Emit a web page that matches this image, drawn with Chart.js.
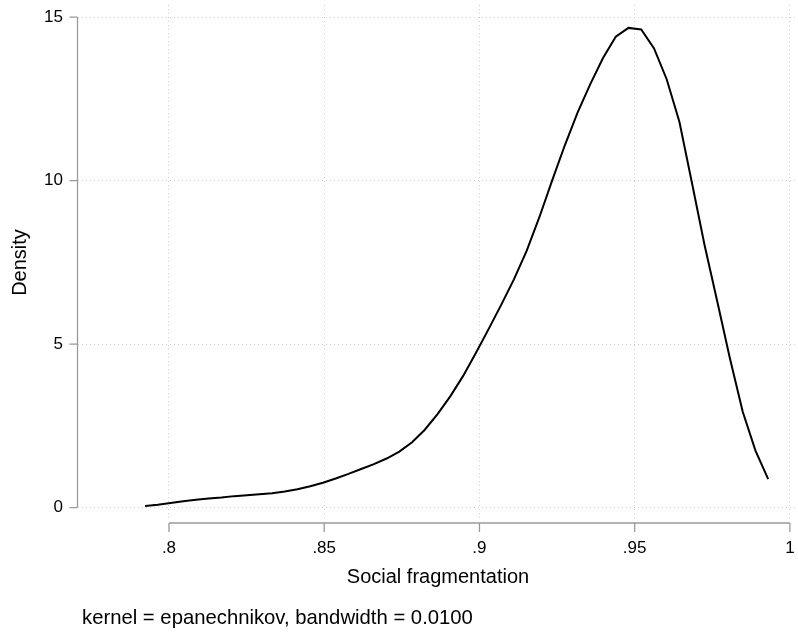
<!DOCTYPE html>
<html>
<head>
<meta charset="utf-8">
<script src="https://cdn.jsdelivr.net/npm/chart.js@4"></script>
<style>
  body { margin: 0; background: #fff; }
  #wrap { position: relative; width: 798px; height: 637px; }
  #note {
    position: absolute; left: 82px; top: 606px;
    font-family: 'Liberation Sans', Arial, sans-serif; font-size: 20.3px; color: #000;
    white-space: nowrap;
  }
</style>
</head>
<body>
<div id="wrap">
  <canvas id="kdensity" width="798" height="637"></canvas>
  <div id="note">kernel = epanechnikov, bandwidth = 0.0100</div>
</div>
<script>
// punti della stima kernel
const fragX = [
  0.7923, 0.7964, 0.8005, 0.8046, 0.8087, 0.8128, 0.8169, 0.8210, 0.8251, 0.8291,
  0.8332, 0.8373, 0.8414, 0.8455, 0.8496, 0.8537, 0.8578, 0.8619, 0.8660, 0.8701,
  0.8742, 0.8783, 0.8824, 0.8865, 0.8906, 0.8947, 0.8988, 0.9029, 0.9070, 0.9111,
  0.9152, 0.9193, 0.9234, 0.9275, 0.9316, 0.9357, 0.9398, 0.9439, 0.9480, 0.9521,
  0.9562, 0.9603, 0.9644, 0.9684, 0.9725, 0.9766, 0.9807, 0.9848, 0.9889, 0.9930
];
const densityY = [
  0.05, 0.09, 0.14, 0.19, 0.24, 0.28, 0.31, 0.35, 0.38, 0.41,
  0.44, 0.49, 0.56, 0.65, 0.76, 0.89, 1.03, 1.18, 1.33, 1.50,
  1.71, 2.00, 2.38, 2.86, 3.40, 4.02, 4.72, 5.45, 6.20, 6.98,
  7.85, 8.88, 10.00, 11.08, 12.08, 12.95, 13.75, 14.40, 14.67, 14.62,
  14.05, 13.10, 11.80, 9.95, 8.03, 6.30, 4.55, 2.93, 1.74, 0.87
];

// tick delle assi
const xTicks = [0.8, 0.85, 0.9, 0.95, 1];
const xTickLabels = ['.8', '.85', '.9', '.95', '1'];
const yTicks = [0, 5, 10, 15];
const yTickLabels = ['0', '5', '10', '15'];

const FONT = "'Liberation Sans', Arial, sans-serif";
const AXIS_GRAY = '#9a9a9a';

// linee degli assi in stile Stata (staccate dall'area del grafico)
const stataAxes = {
  id: 'stataAxes',
  afterDraw(chart) {
    const { ctx, chartArea, scales } = chart;
    const xs = scales.x, ys = scales.y;
    ctx.save();
    ctx.strokeStyle = AXIS_GRAY;
    ctx.lineWidth = 1.3;
    // asse y
    const ax = chartArea.left - 0.5;
    ctx.beginPath();
    ctx.moveTo(ax, ys.getPixelForValue(yTicks[yTicks.length - 1]));
    ctx.lineTo(ax, ys.getPixelForValue(yTicks[0]));
    yTicks.forEach(v => {
      const py = ys.getPixelForValue(v);
      ctx.moveTo(ax, py);
      ctx.lineTo(ax - 8, py);
    });
    // asse x
    const ay = chartArea.bottom + 3;
    ctx.moveTo(xs.getPixelForValue(xTicks[0]), ay);
    ctx.lineTo(xs.getPixelForValue(xTicks[xTicks.length - 1]), ay);
    xTicks.forEach(v => {
      const px = xs.getPixelForValue(v);
      ctx.moveTo(px, ay);
      ctx.lineTo(px, ay + 9);
    });
    ctx.stroke();
    ctx.restore();
  }
};

const ctx = document.getElementById('kdensity').getContext('2d');
new Chart(ctx, {
  type: 'line',
  data: {
    datasets: [{
      data: fragX.map((x, i) => ({ x: x, y: densityY[i] })),
      borderColor: '#000',
      borderWidth: 2,
      pointRadius: 0,
      tension: 0,
      fill: false
    }]
  },
  options: {
    responsive: false,
    animation: false,
    layout: { padding: { top: 5, right: 0, bottom: 40, left: 0 } },
    plugins: { legend: { display: false }, tooltip: { enabled: false } },
    scales: {
      x: {
        type: 'linear',
        min: 0.7707,
        max: 1.0026,
        afterBuildTicks: s => { s.ticks = xTicks.map(v => ({ value: v })); },
        afterFit: s => { s.height = 77; s.paddingLeft = 0; s.paddingRight = 0; },
        ticks: {
          color: '#000',
          font: { family: FONT, size: 17 },
          padding: 18,
          maxRotation: 0,
          callback: v => xTickLabels[xTicks.indexOf(v)]
        },
        grid: { color: '#cfcfcf', lineWidth: 1, drawTicks: false },
        border: { display: false, dash: [1, 3] },
        title: {
          display: true,
          text: 'Social fragmentation',
          color: '#000',
          font: { family: FONT, size: 20 },
          padding: { top: 0, bottom: 7.5 }
        }
      },
      y: {
        min: -0.38,
        max: 15.37,
        afterBuildTicks: s => { s.ticks = yTicks.map(v => ({ value: v })); },
        afterFit: s => { s.width = 78; s.paddingTop = 0; s.paddingBottom = 0; },
        ticks: {
          color: '#000',
          font: { family: FONT, size: 17 },
          padding: 15,
          callback: v => yTickLabels[yTicks.indexOf(v)]
        },
        grid: { color: '#cfcfcf', lineWidth: 1, drawTicks: false },
        border: { display: false, dash: [1, 3] },
        title: {
          display: true,
          text: 'Density',
          color: '#000',
          font: { family: FONT, size: 20 },
          padding: { top: 8, bottom: 0 }
        }
      }
    }
  },
  plugins: [stataAxes]
});
</script>
</body>
</html>
